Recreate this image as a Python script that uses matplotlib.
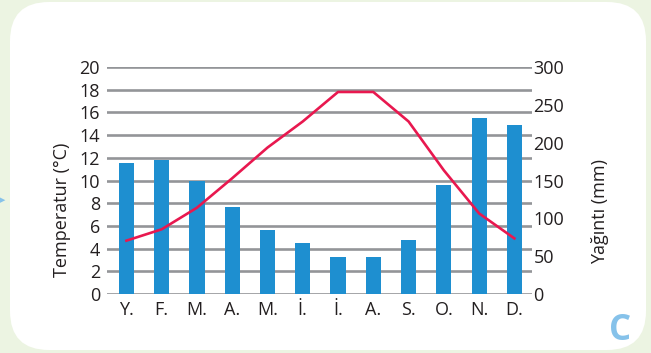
import matplotlib.pyplot as plt
from matplotlib.patches import FancyBboxPatch
import numpy as np

months = ['Y.', 'F.', 'M.', 'A.', 'M.', 'İ.', 'İ.', 'A.', 'S.', 'O.', 'N.', 'D.']
temperature = [4.7, 5.7, 7.6, 10.2, 12.9, 15.2, 17.8, 17.8, 15.2, 10.9, 7.1, 4.9]
rainfall = [173, 177, 149, 115, 85, 67, 49, 49, 71, 144, 233, 223]

plt.rcParams['font.family'] = ['Open Sans', 'DejaVu Sans']

BAR = '#1e8fd0'
LINE = '#e8184f'
GRID = '#939598'
TEXT = '#231f20'

fig = plt.figure(figsize=(6.51, 3.53), dpi=100)
fig.patch.set_facecolor('#ecf4e2')

# white rounded panel behind everything
panel = FancyBboxPatch((10 / 651, 3 / 353), 636 / 651, 348 / 353,
                       boxstyle='round,pad=0,rounding_size=0.06',
                       transform=fig.transFigure, facecolor='white',
                       edgecolor='none', mutation_aspect=651 / 353, zorder=-5)
fig.patches.append(panel)

ax1 = fig.add_axes([107 / 651, 1 - 294 / 353, 425 / 651, 227 / 353])
ax2 = ax1.twinx()

x = np.arange(len(months))

# rainfall bars on the right axis
for v in np.linspace(0, 300, 11):
    ax2.axhline(v, color=GRID, lw=1.9, zorder=0)
ax2.bar(x, rainfall, width=0.43, color=BAR, zorder=2)
ax2.set_ylim(0, 300)
ax2.set_yticks(np.arange(0, 301, 50))
ax2.patch.set_visible(False)

# temperature line on the left axis, kept on top
ax1.plot(x, temperature, color=LINE, lw=1.9, zorder=3)
ax1.set_ylim(0, 20)
ax1.set_yticks(np.arange(0, 21, 2))
ax1.set_xlim(-0.55, 11.5)
ax1.set_xticks(x)
ax1.set_xticklabels(months)
ax1.set_zorder(ax2.get_zorder() + 1)
ax1.patch.set_visible(False)

for ax in (ax1, ax2):
    for s in ax.spines.values():
        s.set_visible(False)
    ax.tick_params(length=0, labelsize=13, colors=TEXT)
ax1.tick_params(axis='y', pad=5)
ax1.tick_params(axis='x', pad=5)
ax2.tick_params(axis='y', pad=1)

fig.text(62 / 651, 1 - 210 / 353, 'Temperatur (°C)', rotation=90,
         ha='center', va='center', fontsize=13, color=TEXT)
fig.text(600 / 651, 1 - 211 / 353, 'Yağıntı (mm)', rotation=90,
         ha='center', va='center', fontsize=13, color=TEXT)

fig.text(620 / 651, 1 - 331 / 353, 'C', ha='center', va='center',
         fontsize=25, fontweight='bold', color='#86c2ea')
fig.text(0, 1 - 200 / 353, '▶', ha='left', va='center', fontsize=5,
         color='#86c2ea', family='DejaVu Sans')

fig.savefig('out.png', dpi=100, facecolor=fig.get_facecolor())
